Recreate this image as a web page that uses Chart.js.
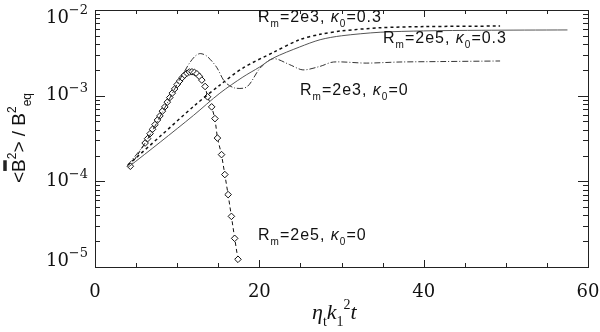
<!DOCTYPE html>
<html>
<head>
<meta charset="utf-8">
<script src="https://cdn.jsdelivr.net/npm/chart.js@4.4.0/dist/chart.umd.min.js"></script>
<style>
html,body{margin:0;padding:0;background:#fff}
</style>
</head>
<body>
<canvas id="c" width="600" height="332"></canvas>
<script>
// values (x = eta_t k1^2 t, y = <B^2>/B_eq^2)
const tSolid=[4.0,8,12,15.2,18,20,21.7,24.9,27.4,30,34.7,40,47,57.5];
const bSolid=[1.45e-4,2.9e-4,5.9e-4,1.07e-3,1.65e-3,2.15e-3,2.75e-3,3.7e-3,4.5e-3,5.0e-3,5.5e-3,5.7e-3,5.8e-3,5.85e-3];

const tDot=[4.0,8,12,15.2,18,21.7,24.9,27.4,30,34.7,40,49.3];
const bDot=[1.55e-4,3.4e-4,7.5e-4,1.33e-3,2.1e-3,3.2e-3,4.5e-3,5.2e-3,5.7e-3,6.2e-3,6.4e-3,6.5e-3];

const tDashDot=[4.0,6.1,8.2,10.1,10.8,11.5,12.2,12.8,13.6,14.8,15.8,17.0,18.5,20.1,21.7,23.7,25.3,27.4,29,33,37,42,49.3];
const bDashDot=[1.55e-4,2.8e-4,6.4e-4,1.42e-3,1.85e-3,2.4e-3,2.9e-3,3.1e-3,2.9e-3,2.15e-3,1.45e-3,1.23e-3,1.27e-3,2.1e-3,2.7e-3,2.3e-3,2.0e-3,2.2e-3,2.47e-3,2.4e-3,2.47e-3,2.5e-3,2.54e-3];

const tDiam=[4.3,6.1,6.4,6.7,7.0,7.3,7.6,7.9,8.2,8.5,8.8,9.1,9.4,9.7,10.0,10.3,10.6,10.9,11.2,11.5,11.8,12.1,12.4,12.7,13.0,13.4,13.7,14.2,14.6,14.9,15.4,15.8,16.2,16.6,17.0,17.4];
const bDiam=[1.5e-4,2.8e-4,3.15e-4,3.6e-4,4.05e-4,4.6e-4,5.2e-4,5.8e-4,6.6e-4,7.4e-4,8.4e-4,9.5e-4,1.07e-3,1.2e-3,1.35e-3,1.48e-3,1.62e-3,1.74e-3,1.83e-3,1.89e-3,1.9e-3,1.87e-3,1.8e-3,1.68e-3,1.52e-3,1.28e-3,9.7e-4,7.4e-4,5.4e-4,3.2e-4,2.05e-4,1.2e-4,7.0e-5,3.9e-5,2.16e-5,1.23e-5];

const xTicks=[0,20,40,60];
const xTickLabels=['0','20','40','60'];
const yTicks=[1e-5,1e-4,1e-3,1e-2];
const yTickExp=['\u22125','\u22124','\u22123','\u22122'];

function pts(t,b){ return t.map((v,i)=>({x:v,y:b[i]})); }

// rich text: parts = [text, mode] ; mode: '', 'sub', 'sup', 'it'
function fontFor(mode,size,fam){
  let s=size, st='';
  if(mode=='sub'||mode=='sup') s=Math.round(size*0.65);
  if(mode=='it') st='italic ';
  return st+s+'px '+fam;
}
function richWidth(ctx,parts,size,fam){
  let w=0;
  parts.forEach(p=>{ ctx.font=fontFor(p[1],size,fam); w+=ctx.measureText(p[0]).width; });
  return w;
}
function drawRich(ctx,x,y,parts,size,fam){
  ctx.textBaseline='alphabetic'; ctx.textAlign='left';
  const pos=[];
  parts.forEach(p=>{
    ctx.font=fontFor(p[1],size,fam);
    let dy=0;
    if(p[1]=='sub') dy=size*0.3;
    if(p[1]=='sup') dy=-size*0.45;
    ctx.fillText(p[0],x,y+dy);
    const w=ctx.measureText(p[0]).width;
    pos.push([x,w]);
    x+=w;
  });
  return pos;
}

const frame={
  id:'frame',
  afterDraw(chart){
    const ctx=chart.ctx, a=chart.chartArea, xs=chart.scales.x, ys=chart.scales.y;
    ctx.save();
    ctx.strokeStyle='#222'; ctx.fillStyle='#111'; ctx.lineWidth=1;
    ctx.strokeRect(a.left+0.5,a.top+0.5,a.right-a.left,a.bottom-a.top);
    const ln=(x1,y1,x2,y2)=>{ctx.beginPath();ctx.moveTo(x1,y1);ctx.lineTo(x2,y2);ctx.stroke();};
    // x ticks, inward, every 5
    for(let v=0;v<=60;v+=5){
      const px=Math.round(xs.getPixelForValue(v))+0.5;
      const len=xTicks.includes(v)?7:4;
      ln(px,a.bottom,px,a.bottom-len);
      ln(px,a.top,px,a.top+len);
    }
    // y ticks, log minor
    for(let d=-5;d<=-2;d++){
      for(let m=1;m<=9;m++){
        if(d==-2&&m>1) break;
        const v=m*Math.pow(10,d);
        const py=Math.round(ys.getPixelForValue(v))+0.5;
        const len=m==1?10:5;
        ln(a.left,py,a.left+len,py);
        ln(a.right,py,a.right-len,py);
      }
    }
    // x tick labels
    ctx.font='18px "DejaVu Serif"'; ctx.textAlign='center'; ctx.textBaseline='middle';
    xTicks.forEach((v,i)=>ctx.fillText(xTickLabels[i],xs.getPixelForValue(v),292));
    // y tick labels 10^n
    yTicks.forEach((v,i)=>{
      let py=ys.getPixelForValue(v);
      py=Math.min(Math.max(py,18),261);
      ctx.textBaseline='middle'; ctx.textAlign='right';
      ctx.font='13px "DejaVu Serif"';
      const we=ctx.measureText(yTickExp[i]).width;
      ctx.fillText(yTickExp[i],88,py-7);
      ctx.font='18px "DejaVu Serif"';
      ctx.fillText('10',88-we,py);
    });
    // x title
    const xt=[['\u03b7','it'],['t','sub'],['k','it'],['1','sub'],['2','sup'],['t','it']];
    drawRich(ctx,312,319,xt,22,'"Liberation Serif"');
    // y title, rotated
    ctx.save();
    ctx.translate(25,138); ctx.rotate(-Math.PI/2);
    const fam='"Liberation Sans"';
    const yt=[['<',''],['B',''],['2','sup'],['>',''],[' / ',''],['B',''],['2','sup'],['eq','sub']];
    const w=richWidth(ctx,yt,19,fam);
    const pos=drawRich(ctx,-w/2,0,yt,19,fam);
    // overbar on first B
    ctx.lineWidth=3.5;
    ctx.beginPath(); ctx.moveTo(pos[1][0]+1,-20); ctx.lineTo(pos[1][0]+pos[1][1]-1,-20); ctx.stroke();
    ctx.restore();
    // curve annotations
    ctx.letterSpacing='1px';
    const lab=(x,y,rm,k)=>drawRich(ctx,x,y,[['R',''],['m','sub'],['='+rm+', ',''],['\u03ba','it'],['0','sub'],['='+k,'']],16,'"Liberation Sans"');
    ctx.fillStyle='#111';
    lab(258,22,'2e3','0.3');
    lab(383,43,'2e5','0.3');
    lab(300,95,'2e3','0');
    lab(258,240,'2e5','0');
    ctx.restore();
  }
};

new Chart(document.getElementById('c'),{
  type:'line',
  data:{datasets:[
    {label:'Rm=2e5 k0=0.3',data:pts(tSolid,bSolid),borderColor:'#555',borderWidth:1,pointRadius:0,tension:0.3},
    {label:'Rm=2e3 k0=0.3',data:pts(tDot,bDot),borderColor:'#111',borderWidth:1.5,borderDash:[3,3],pointRadius:0,tension:0.3},
    {label:'Rm=2e3 k0=0',data:pts(tDashDot,bDashDot),borderColor:'#333',borderWidth:1,borderDash:[6,2,1,2],pointRadius:0,tension:0.3},
    {label:'Rm=2e5 k0=0',data:pts(tDiam,bDiam),borderColor:'#111',borderWidth:1,borderDash:[4,3],
     pointStyle:'rectRot',pointRadius:3.3,pointBackgroundColor:'#fff',pointBorderColor:'#111',pointBorderWidth:1,tension:0}
  ]},
  options:{
    responsive:false,animation:false,devicePixelRatio:1,
    layout:{padding:{left:95,right:12,top:10,bottom:65}},
    plugins:{legend:{display:false},tooltip:{enabled:false}},
    scales:{
      x:{type:'linear',min:0,max:60,display:false},
      y:{type:'logarithmic',min:1e-5,max:1e-2,display:false}
    }
  },
  plugins:[frame]
});
</script>
</body>
</html>
